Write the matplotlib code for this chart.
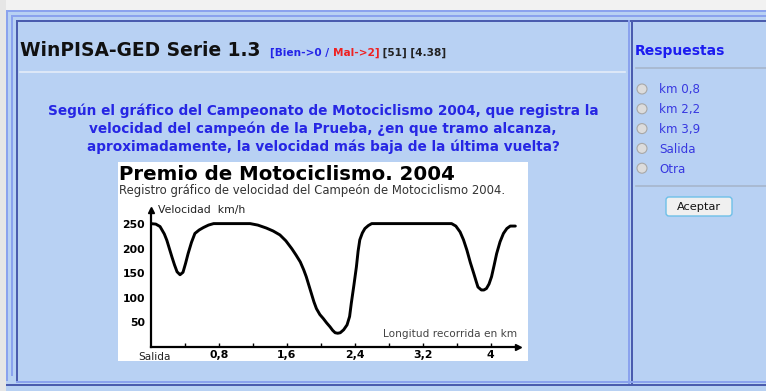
import matplotlib
matplotlib.use("Agg")
import matplotlib.pyplot as plt
from matplotlib.patches import Rectangle, Circle, FancyBboxPatch

# speed record of the champion (km, km/h)
distance_km = [0.00, 0.06, 0.11, 0.16, 0.19, 0.22, 0.25, 0.28, 0.31, 0.345, 0.38,
               0.41, 0.44, 0.48, 0.52, 0.57, 0.62, 0.68, 0.74, 1.17, 1.26,
               1.36, 1.44, 1.52, 1.59, 1.66, 1.71, 1.76, 1.80, 1.83, 1.86,
               1.89, 1.92, 1.95, 1.99, 2.03, 2.07, 2.11, 2.14, 2.17, 2.20,
               2.23, 2.27, 2.31, 2.34, 2.36, 2.39, 2.42, 2.44, 2.46, 2.49,
               2.52, 2.56, 2.60, 3.54, 3.59, 3.64, 3.68, 3.72, 3.76, 3.80,
               3.83, 3.85, 3.89, 3.92, 3.95, 3.98, 4.01, 4.04, 4.07, 4.11,
               4.15, 4.19, 4.23, 4.29]
speed_kmh = [251, 250, 245, 230, 217, 200, 183, 167, 153, 147, 152,
             170, 190, 213, 231, 238, 243, 248, 251, 251, 248,
             242, 236, 228, 216, 200, 187, 173, 157, 143, 126,
             109, 92, 78, 66, 58, 49, 41, 34, 29, 28,
             29, 35, 45, 62, 89, 125, 163, 195, 218, 232,
             241, 247, 251, 251, 246, 234, 218, 197, 172, 150,
             133, 122, 116, 116, 119, 128, 143, 166, 190, 214,
             231, 241, 246, 246]

y_ticks = [50, 100, 150, 200, 250]
x_minor = [0.4, 0.8, 1.2, 1.6, 2.0, 2.4, 2.8, 3.2, 3.6, 4.0]
x_labels = {0.8: "0,8", 1.6: "1,6", 2.4: "2,4", 3.2: "3,2", 4.0: "4"}

options = ["km 0,8", "km 2,2", "km 3,9", "Salida", "Otra"]
question = ("Según el gráfico del Campeonato de Motociclismo 2004, que registra la\n"
            "velocidad del campeón de la Prueba, ¿en que tramo alcanza,\n"
            "aproximadamente, la velocidad más baja de la última vuelta?")
score_parts = [("[Bien->0 / ", "#2424e8"), ("Mal->2]", "#ee2222"),
               (" [51] [4.38]", "#222222")]

W, H = 766, 391
BG = "#b8d1f3"
LINE_LIGHT = "#8aa2ee"
LINE_DARK = "#4a5cae"
BLUE_TXT = "#2626e4"

fig = plt.figure(figsize=(W / 100, H / 100), dpi=100)
fig.patch.set_facecolor(BG)

page = fig.add_axes([0, 0, 1, 1])
page.set_xlim(0, W)
page.set_ylim(H, 0)
page.axis("off")

# window frame
page.add_patch(Rectangle((0, 0), W, 10, color="#f2f2f2", lw=0))
page.add_patch(Rectangle((0, 0), 6, H, color="#e6e6e6", lw=0))
page.add_patch(Rectangle((6, 10), W, 2, color=LINE_LIGHT, lw=0))
page.add_patch(Rectangle((6, 10), 2, H - 20, color=LINE_LIGHT, lw=0))
page.add_patch(Rectangle((11, 15), W, 2, color=LINE_LIGHT, lw=0))
page.add_patch(Rectangle((11, 15), 2, H - 30, color=LINE_LIGHT, lw=0))
page.add_patch(Rectangle((16, 20), W, 2, color=LINE_DARK, lw=0))
page.add_patch(Rectangle((16, 20), 2, 363, color=LINE_DARK, lw=0))
page.add_patch(Rectangle((628, 20), 2, 364, color=LINE_LIGHT, lw=0))
page.add_patch(Rectangle((631, 20), 2, 364, color=LINE_DARK, lw=0))
page.add_patch(Rectangle((16, 381), W, 2, color=LINE_LIGHT, lw=0))
page.add_patch(Rectangle((6, 384), W, 2, color=LINE_DARK, lw=0))

# header of the left panel
page.text(20, 51, "WinPISA-GED Serie 1.3", fontsize=13.4, fontweight="bold",
          color="#111111", va="center", ha="left")
prev = page.text(270, 53, score_parts[0][0], fontsize=7.6, fontweight="bold",
                 color=score_parts[0][1], va="center", ha="left")
for txt, col in score_parts[1:]:
    prev = page.annotate(txt, xy=(1, 0.5), xycoords=prev, fontsize=7.6,
                         fontweight="bold", color=col, va="center", ha="left")
page.plot([20, 625], [72, 72], color="#e4ecf8", lw=1.2)

page.text(323, 128.5, question, fontsize=9.8, fontweight="bold", color=BLUE_TXT,
          ha="center", va="center", linespacing=1.3)

# answers panel
page.text(635, 51, "Respuestas", fontsize=10, fontweight="bold",
          color="#1c1cf0", va="center", ha="left")
page.plot([636, 766], [68, 68], color="#a7b6cc", lw=1.2)
for i, opt in enumerate(options):
    yy = 89 + i * 19.8
    page.add_patch(Circle((642, yy), 5, facecolor="#dcdcdc",
                          edgecolor="#a8a8a8", lw=0.8))
    page.text(659, yy + 1, opt, fontsize=8.6, color="#3838e0",
              va="center", ha="left")
page.plot([636, 766], [186, 186], color="#a7b6cc", lw=1.2)
page.add_patch(FancyBboxPatch((666, 197), 66, 19,
                              boxstyle="round,pad=0,rounding_size=3",
                              facecolor="#f0f0f0", edgecolor="#6ec0e8", lw=1))
page.text(699, 206.5, "Aceptar", fontsize=8.2, color="#111111",
          ha="center", va="center")

# white card holding the chart
page.add_patch(Rectangle((118, 162), 410, 199, facecolor="white", lw=0))
page.text(119, 174, "Premio de Motociclismo. 2004", fontsize=14.2,
          fontweight="heavy", color="black", va="center", ha="left")
page.text(119, 190.5, "Registro gráfico de velocidad del Campeón de Motociclismo 2004.",
          fontsize=8.4, color="#333333", va="center", ha="left")

# chart axes
x0, x1 = 150.7, 518
y_top, y_bot = 210, 347
ax = fig.add_axes([x0 / W, 1 - y_bot / H, (x1 - x0) / W, (y_bot - y_top) / H])
ax.set_facecolor("none")
ax.set_xlim(0, (x1 - x0) / 85.0)
ax.set_ylim(0, (y_bot - y_top) / 0.4916)

ax.plot(distance_km, speed_kmh, color="black", lw=2.1,
        solid_joinstyle="round", solid_capstyle="round")

for s in ["top", "right"]:
    ax.spines[s].set_visible(False)
for s in ["left", "bottom"]:
    ax.spines[s].set_linewidth(1.6)
    ax.spines[s].set_color("black")
ax.plot(1, 0, ">", color="black", ms=4.5, transform=ax.transAxes, clip_on=False)
ax.plot(0, 1, "^", color="black", ms=4.5, transform=ax.transAxes, clip_on=False)

ax.set_yticks(y_ticks)
ax.set_yticklabels([str(v) for v in y_ticks], fontsize=7.8, fontweight="bold")
ax.tick_params(axis="y", length=0, pad=4)
ax.set_xticks(x_minor)
ax.set_xticklabels([x_labels.get(round(v, 1), "") for v in x_minor],
                   fontsize=7.8, fontweight="bold")
ax.tick_params(axis="x", direction="in", length=3, width=1, pad=2.5)
ax.text(0.05, -0.035, "Salida", transform=ax.get_xaxis_transform(),
        fontsize=7.6, ha="center", va="top", color="#222222")

ax.text(0.02, 1.0, "Velocidad  km/h", transform=ax.transAxes,
        fontsize=7.8, ha="left", va="center", color="#222222")
ax.text(0.997, 0.095, "Longitud recorrida en km", transform=ax.transAxes,
        fontsize=7.6, ha="right", va="center", color="#444444")

fig.savefig("out.png", dpi=100, facecolor=fig.get_facecolor())
